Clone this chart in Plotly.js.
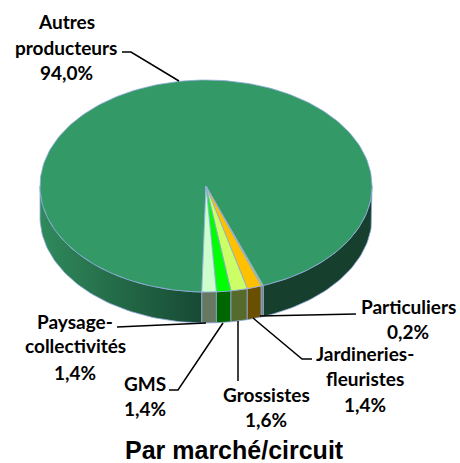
<!DOCTYPE html>
<html>
<head>
<meta charset="utf-8">
<script src="https://cdn.plot.ly/plotly-3.0.1.min.js"></script>
<style>html,body{margin:0;padding:0;background:#fff}#c{width:460px;height:463px}</style>
</head>
<body>
<div id="c"></div>
<script>
// Data
const categories = ['Paysage-collectivités','GMS','Grossistes','Jardineries-fleuristes','Particuliers','Autres producteurs'];
const shares = [1.4,1.4,1.6,1.4,0.2,94.0];
const topColors = ['#CCFFCC','#00FF00','#CCFF66','#FFC000','#A6C86A','#339966'];
const sideColors = ['#66785F','#006600','#566B2B','#6B4F00','#6E7F6A','#173F2D'];
const edgeColor = '#8FAADC';
// Labels, one entry per line of text
const labelLines = [
  ['Paysage-','collectivités','1,4%'],
  ['GMS','1,4%'],
  ['Grossistes','1,6%'],
  ['Jardineries-','fleuristes','1,4%'],
  ['Particuliers','0,2%'],
  ['Autres','producteurs','94,0%']
];
const labelCenterX = [75,145,266,365,408,66];
const labelLineY = [[321,345,372],[383,408],[394,419],[353,378,404],[306,331],[21,47,72]];
const leaderX = [[117,206],[169,178,223],[238,238],[312,302,253],[356,260],[122,131,179]];
const leaderY = [[327,323],[390,390,323],[381,321],[359,359,318],[314,316],[52,52,81]];
const titleText = 'Par marché/circuit';
// Pie projection
const cx = 206, cy = 186, rx = 166, ry = 106, depth = 31, startDeg = -1.44;

const rad = d => d*Math.PI/180;
const px = d => cx + rx*Math.sin(rad(d));
const py = d => cy + ry*Math.cos(rad(d));
function arc(a,b){ const n=Math.max(2,Math.ceil(Math.abs(b-a)/1.5)); const o=[]; for(let i=0;i<=n;i++) o.push(a+(b-a)*i/n); return o; }

const traces = [];
function poly(xs,ys,fill,grad){
  const t = {type:'scatter',mode:'lines',x:xs,y:ys,fill:'toself',fillcolor:fill,
    line:{color:edgeColor,width:0.8},hoverinfo:'skip',showlegend:false};
  if(grad) t.fillgradient = grad;
  traces.push(t);
}
function wall(a,b,fill,grad){
  const f = arc(a,b), r = f.slice().reverse();
  poly(f.map(px).concat(r.map(px),[px(a)]),
       f.map(py).concat(r.map(d=>py(d)+depth),[py(a)]),fill,grad);
}
// slice boundaries accumulated from the shares
let acc = startDeg; const bounds = shares.map(v=>{const s=[acc,acc+v*3.6]; acc+=v*3.6; return s;});
// walls
const leftGrad = {type:'horizontal',start:40,stop:201,colorscale:[[0,'#2F8A5C'],[0.35,'#27734D'],[1,'#174A33']]};
const lastI = shares.length-1;
wall(bounds[lastI][0],90,sideColors[lastI]);
wall(-90,startDeg,sideColors[lastI],leftGrad);
for(let i=0;i<lastI;i++) wall(bounds[i][0],bounds[i][1],sideColors[i]);
// top faces
for(let i=lastI;i>=0;i--){
  const f = arc(bounds[i][0],bounds[i][1]);
  poly([cx].concat(f.map(px),[cx]),[cy].concat(f.map(py),[cy]),topColors[i]);
}
const annotations = [];
labelLines.forEach((lines,i)=>lines.forEach((t,j)=>annotations.push({
  xref:'x',yref:'y',x:labelCenterX[i],y:labelLineY[i][j],text:t,showarrow:false,
  xanchor:'center',yanchor:'middle',font:{family:'Lato, Carlito, sans-serif',size:19,color:'#000',weight:700}
})));
annotations.push({xref:'x',yref:'y',x:234.5,y:450,text:titleText,showarrow:false,xanchor:'center',yanchor:'middle',
  font:{family:'"Liberation Sans", Arial, sans-serif',size:25,color:'#000',weight:700}});
leaderX.forEach((xs,i)=>traces.push({type:'scatter',mode:'lines',x:xs,y:leaderY[i],
  line:{color:'#000',width:1.5},hoverinfo:'skip',showlegend:false}));

Plotly.newPlot('c',traces,{
  width:460,height:463,margin:{l:0,r:0,t:0,b:0},paper_bgcolor:'#fff',plot_bgcolor:'#fff',showlegend:false,
  xaxis:{range:[0,460],visible:false,fixedrange:true},
  yaxis:{range:[463,0],visible:false,fixedrange:true},
  annotations:annotations
},{displayModeBar:false,staticPlot:true});
</script>
</body>
</html>
